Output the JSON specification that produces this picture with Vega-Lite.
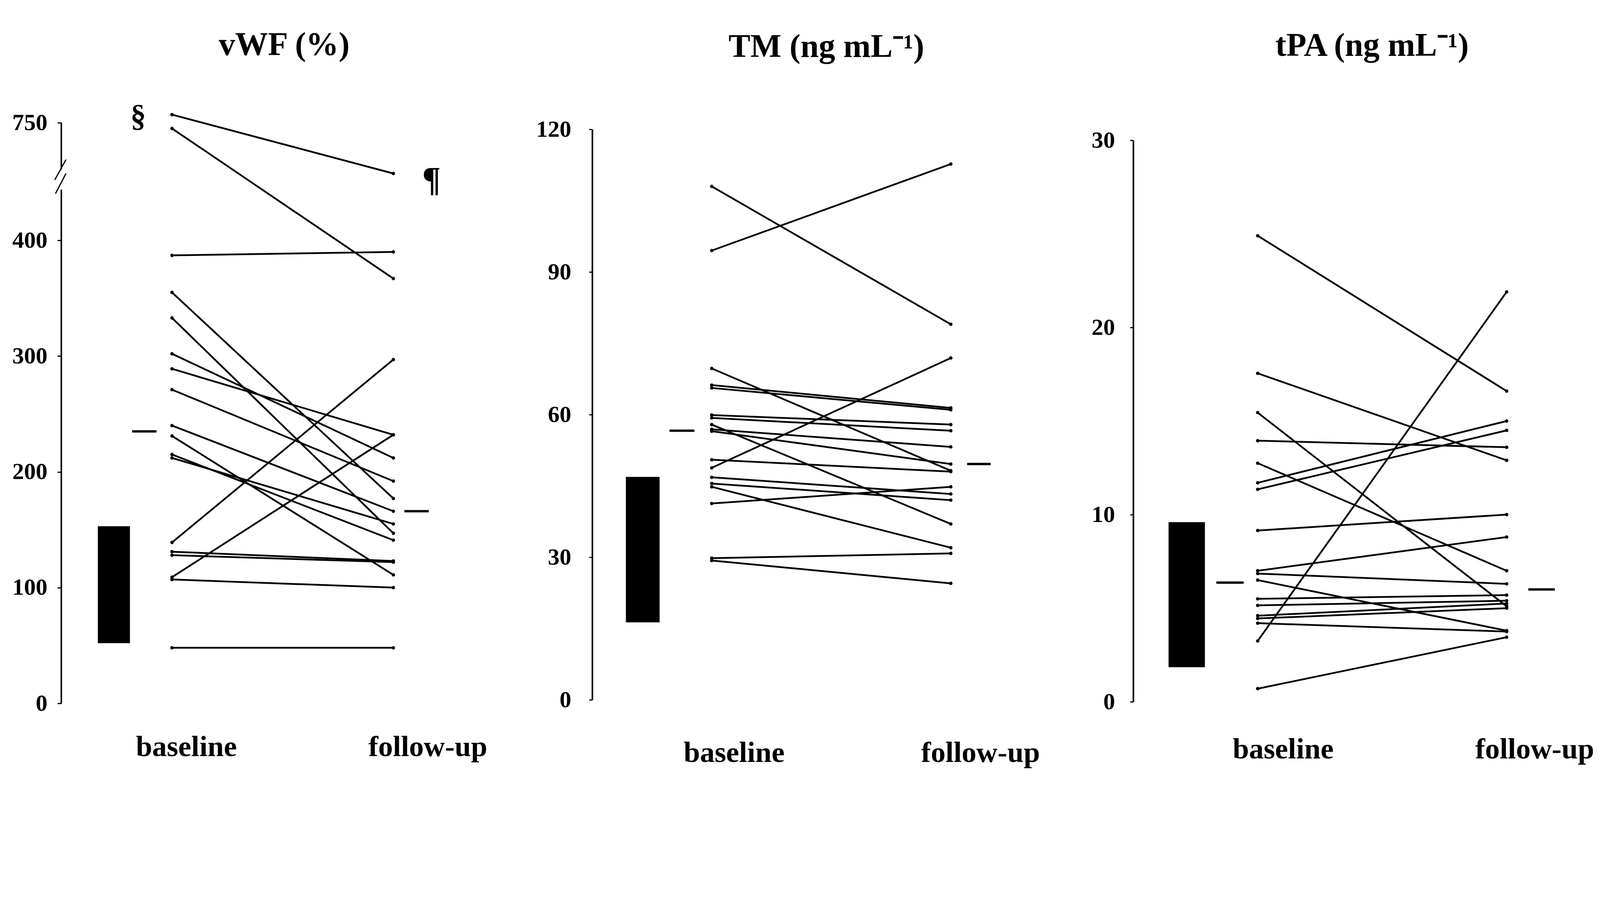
{
  "$schema": "https://vega.github.io/schema/vega-lite/v6.json",
  "padding": {"left": 31, "top": 74, "right": 7, "bottom": 4},
  "background": "white",
  "bounds": "flush",
  "spacing": 218,
  "datasets": {
    "vwf": [
      {"subject": 1, "baseline": 757, "followup": 706},
      {"subject": 2, "baseline": 745, "followup": 367},
      {"subject": 3, "baseline": 387, "followup": 390},
      {"subject": 4, "baseline": 355, "followup": 177},
      {"subject": 5, "baseline": 333, "followup": 147},
      {"subject": 6, "baseline": 302, "followup": 212},
      {"subject": 7, "baseline": 289, "followup": 232},
      {"subject": 8, "baseline": 271, "followup": 192},
      {"subject": 9, "baseline": 240, "followup": 166},
      {"subject": 10, "baseline": 231, "followup": 111},
      {"subject": 11, "baseline": 215, "followup": 141},
      {"subject": 12, "baseline": 212, "followup": 155},
      {"subject": 13, "baseline": 139, "followup": 297},
      {"subject": 14, "baseline": 131, "followup": 123},
      {"subject": 15, "baseline": 128, "followup": 122},
      {"subject": 16, "baseline": 109, "followup": 232},
      {"subject": 17, "baseline": 107, "followup": 100},
      {"subject": 18, "baseline": 48, "followup": 48}
    ],
    "tm": [
      {"subject": 1, "baseline": 108, "followup": 79},
      {"subject": 2, "baseline": 94.5, "followup": 112.7},
      {"subject": 3, "baseline": 69.7, "followup": 48.2},
      {"subject": 4, "baseline": 66.2, "followup": 61.4},
      {"subject": 5, "baseline": 65.6, "followup": 61.0},
      {"subject": 6, "baseline": 59.9, "followup": 57.9},
      {"subject": 7, "baseline": 59.3, "followup": 56.6},
      {"subject": 8, "baseline": 57.9, "followup": 37.0},
      {"subject": 9, "baseline": 56.9, "followup": 53.2},
      {"subject": 10, "baseline": 56.5, "followup": 49.6},
      {"subject": 11, "baseline": 50.5, "followup": 48.0},
      {"subject": 12, "baseline": 48.8, "followup": 71.9},
      {"subject": 13, "baseline": 46.8, "followup": 43.3},
      {"subject": 14, "baseline": 45.5, "followup": 42.0},
      {"subject": 15, "baseline": 44.8, "followup": 32.0},
      {"subject": 16, "baseline": 41.3, "followup": 44.8},
      {"subject": 17, "baseline": 29.8, "followup": 30.8},
      {"subject": 18, "baseline": 29.3, "followup": 24.5}
    ],
    "tpa": [
      {"subject": 1, "baseline": 24.9, "followup": 16.6},
      {"subject": 2, "baseline": 17.55, "followup": 12.9},
      {"subject": 3, "baseline": 15.45, "followup": 5.1},
      {"subject": 4, "baseline": 13.95, "followup": 13.6},
      {"subject": 5, "baseline": 12.75, "followup": 7.0},
      {"subject": 6, "baseline": 11.7, "followup": 15.0},
      {"subject": 7, "baseline": 11.35, "followup": 14.5},
      {"subject": 8, "baseline": 9.15, "followup": 10.0},
      {"subject": 9, "baseline": 7.0, "followup": 8.8},
      {"subject": 10, "baseline": 6.85, "followup": 6.3},
      {"subject": 11, "baseline": 6.5, "followup": 3.8},
      {"subject": 12, "baseline": 5.5, "followup": 5.7},
      {"subject": 13, "baseline": 5.15, "followup": 5.4},
      {"subject": 14, "baseline": 4.6, "followup": 5.25},
      {"subject": 15, "baseline": 4.45, "followup": 5.0},
      {"subject": 16, "baseline": 4.2, "followup": 3.75},
      {"subject": 17, "baseline": 3.25, "followup": 21.9},
      {"subject": 18, "baseline": 0.7, "followup": 3.45}
    ],
    "summary": [
      {"marker": "vWF", "range_low": 52, "range_high": 153, "mean_baseline": 235, "mean_followup": 166},
      {"marker": "TM", "range_low": 16.3, "range_high": 46.9, "mean_baseline": 56.6, "mean_followup": 49.6},
      {"marker": "tPA", "range_low": 1.85, "range_high": 9.6, "mean_baseline": 6.37, "mean_followup": 6.0}
    ]
  },
  "hconcat": [
    {
      "width": 1141, "height": 1487,
      "title": {"text": "vWF (%)", "offset": 100},
      "layer": [
        {
          "data": {"name": "vwf"},
          "mark": {"type": "rule", "strokeWidth": 4.5},
          "encoding": {
            "x": {"datum": 1, "type": "quantitative", "scale": {"domain": [0, 4], "range": [0, 1133.3]},
                  "axis": {"orient": "bottom", "values": [1.128, 3.31], "labelExpr": "datum.value < 2 ? 'baseline' : 'follow-up'", "domain": false, "ticks": false, "labelPadding": 74, "labelFontSize": 75, "labelLimit": 1000, "labelFlush": false, "labelOverlap": false, "title": null}},
            "x2": {"datum": 3},
            "y": {"field": "baseline", "type": "quantitative", "scale": {"domain": [0, 450, 706, 750], "range": [1486, 153, 130, 0], "nice": false, "zero": false},
                  "axis": {"values": [0, 100, 200, 300, 400, 750], "domain": false, "tickSize": 10, "tickWidth": 3, "labelPadding": 26, "labelFontSize": 60, "title": null}},
            "y2": {"field": "followup"}
          }
        },
        {
          "data": {"name": "vwf"},
          "mark": {"type": "circle", "size": 77, "opacity": 1, "color": "black"},
          "encoding": {
            "x": {"datum": 1, "type": "quantitative", "title": null},
            "y": {"field": "baseline", "type": "quantitative", "title": null}
          }
        },
        {
          "data": {"name": "vwf"},
          "mark": {"type": "circle", "size": 77, "opacity": 1, "color": "black"},
          "encoding": {
            "x": {"datum": 3, "type": "quantitative", "title": null},
            "y": {"field": "followup", "type": "quantitative", "title": null}
          }
        },
        {
          "data": {"name": "summary"},
          "transform": [{"filter": "datum.marker === 'vWF'"}],
          "mark": {"type": "rect", "color": "black"},
          "encoding": {
            "x": {"datum": 0.33, "type": "quantitative", "title": null},
            "x2": {"datum": 0.62},
            "y": {"field": "range_low", "type": "quantitative", "title": null},
            "y2": {"field": "range_high"}
          }
        },
        {
          "data": {"name": "summary"},
          "transform": [{"filter": "datum.marker === 'vWF'"}],
          "mark": {"type": "rule", "strokeWidth": 6},
          "encoding": {
            "x": {"datum": 0.64, "type": "quantitative", "title": null},
            "x2": {"datum": 0.86},
            "y": {"field": "mean_baseline", "type": "quantitative", "title": null}
          }
        },
        {
          "data": {"name": "summary"},
          "transform": [{"filter": "datum.marker === 'vWF'"}],
          "mark": {"type": "rule", "strokeWidth": 6},
          "encoding": {
            "x": {"datum": 3.10, "type": "quantitative", "title": null},
            "x2": {"datum": 3.32},
            "y": {"field": "mean_followup", "type": "quantitative", "title": null}
          }
        },
        {
          "data": {"values": [{}]},
          "mark": {"type": "rule", "strokeWidth": 4},
          "encoding": {
            "x": {"datum": 0, "type": "quantitative", "title": null},
            "y": {"datum": 0, "type": "quantitative", "title": null},
            "y2": {"datum": 443.8}
          }
        },
        {
          "data": {"values": [{}]},
          "mark": {"type": "rule", "strokeWidth": 4},
          "encoding": {
            "x": {"datum": 0, "type": "quantitative", "title": null},
            "y": {"datum": 709.5, "type": "quantitative", "title": null},
            "y2": {"datum": 750}
          }
        },
        {
          "data": {"values": [{}]},
          "mark": {"type": "rule", "strokeWidth": 3},
          "encoding": {
            "x": {"datum": -0.059, "type": "quantitative", "title": null},
            "x2": {"datum": 0.042},
            "y": {"datum": 526, "type": "quantitative", "title": null},
            "y2": {"datum": 718}
          }
        },
        {
          "data": {"values": [{}]},
          "mark": {"type": "rule", "strokeWidth": 3},
          "encoding": {
            "x": {"datum": -0.053, "type": "quantitative", "title": null},
            "x2": {"datum": 0.042},
            "y": {"datum": 440.4, "type": "quantitative", "title": null},
            "y2": {"datum": 706}
          }
        },
        {
          "data": {"values": [{}]},
          "mark": {"type": "text", "text": "§", "font": "Liberation Serif", "fontWeight": "bold", "fontSize": 80, "baseline": "middle", "align": "center"},
          "encoding": {
            "x": {"datum": 0.694, "type": "quantitative", "title": null},
            "y": {"datum": 755, "type": "quantitative", "title": null}
          }
        },
        {
          "data": {"values": [{}]},
          "mark": {"type": "text", "text": "¶", "font": "Liberation Serif", "fontWeight": "bold", "fontSize": 88, "baseline": "middle", "align": "center"},
          "encoding": {
            "x": {"datum": 3.344, "type": "quantitative", "title": null},
            "y": {"datum": 507, "type": "quantitative", "title": null}
          }
        }
      ]
    },
    {
      "width": 1167, "height": 1487,
      "title": {"text": "TM (ng mL⁻¹)", "offset": 137, "dx": 16},
      "layer": [
        {
          "data": {"name": "tm"},
          "mark": {"type": "rule", "strokeWidth": 4.5},
          "encoding": {
            "x": {"datum": 1, "type": "quantitative", "scale": {"domain": [0, 4], "range": [0, 1224]},
                  "axis": {"orient": "bottom", "values": [1.186, 3.247], "labelExpr": "datum.value < 2 ? 'baseline' : 'follow-up'", "domain": false, "ticks": false, "labelPadding": 89, "labelFontSize": 75, "labelLimit": 1000, "labelFlush": false, "labelOverlap": false, "title": null}},
            "x2": {"datum": 3},
            "y": {"field": "baseline", "type": "quantitative", "scale": {"domain": [0, 120], "range": [1477, 17], "nice": false, "zero": false},
                  "axis": {"values": [0, 30, 60, 90, 120], "domain": true, "domainWidth": 4, "tickSize": 8, "tickWidth": 3, "labelPadding": 46, "labelFontSize": 60, "title": null}},
            "y2": {"field": "followup"}
          }
        },
        {
          "data": {"name": "tm"},
          "mark": {"type": "circle", "size": 77, "opacity": 1, "color": "black"},
          "encoding": {
            "x": {"datum": 1, "type": "quantitative", "title": null},
            "y": {"field": "baseline", "type": "quantitative", "title": null}
          }
        },
        {
          "data": {"name": "tm"},
          "mark": {"type": "circle", "size": 77, "opacity": 1, "color": "black"},
          "encoding": {
            "x": {"datum": 3, "type": "quantitative", "title": null},
            "y": {"field": "followup", "type": "quantitative", "title": null}
          }
        },
        {
          "data": {"name": "summary"},
          "transform": [{"filter": "datum.marker === 'TM'"}],
          "mark": {"type": "rect", "color": "black"},
          "encoding": {
            "x": {"datum": 0.282, "type": "quantitative", "title": null},
            "x2": {"datum": 0.564},
            "y": {"field": "range_low", "type": "quantitative", "title": null},
            "y2": {"field": "range_high"}
          }
        },
        {
          "data": {"name": "summary"},
          "transform": [{"filter": "datum.marker === 'TM'"}],
          "mark": {"type": "rule", "strokeWidth": 6},
          "encoding": {
            "x": {"datum": 0.647, "type": "quantitative", "title": null},
            "x2": {"datum": 0.855},
            "y": {"field": "mean_baseline", "type": "quantitative", "title": null}
          }
        },
        {
          "data": {"name": "summary"},
          "transform": [{"filter": "datum.marker === 'TM'"}],
          "mark": {"type": "rule", "strokeWidth": 6},
          "encoding": {
            "x": {"datum": 3.137, "type": "quantitative", "title": null},
            "x2": {"datum": 3.334},
            "y": {"field": "mean_followup", "type": "quantitative", "title": null}
          }
        }
      ]
    },
    {
      "width": 1173, "height": 1487,
      "title": {"text": "tPA (ng mL⁻¹)", "offset": 153, "dx": 25},
      "layer": [
        {
          "data": {"name": "tpa"},
          "mark": {"type": "rule", "strokeWidth": 4.5},
          "encoding": {
            "x": {"datum": 1, "type": "quantitative", "scale": {"domain": [0, 4], "range": [0, 1274.7]},
                  "axis": {"orient": "bottom", "values": [1.203, 3.224], "labelExpr": "datum.value < 2 ? 'baseline' : 'follow-up'", "domain": false, "ticks": false, "labelPadding": 80, "labelFontSize": 75, "labelLimit": 1000, "labelFlush": false, "labelOverlap": false, "title": null}},
            "x2": {"datum": 3},
            "y": {"field": "baseline", "type": "quantitative", "scale": {"domain": [0, 30], "range": [1482, 45], "nice": false, "zero": false},
                  "axis": {"values": [0, 10, 20, 30], "format": "d", "domain": true, "domainWidth": 4, "tickSize": 8, "tickWidth": 3, "labelPadding": 39, "labelFontSize": 60, "title": null}},
            "y2": {"field": "followup"}
          }
        },
        {
          "data": {"name": "tpa"},
          "mark": {"type": "circle", "size": 77, "opacity": 1, "color": "black"},
          "encoding": {
            "x": {"datum": 1, "type": "quantitative", "title": null},
            "y": {"field": "baseline", "type": "quantitative", "title": null}
          }
        },
        {
          "data": {"name": "tpa"},
          "mark": {"type": "circle", "size": 77, "opacity": 1, "color": "black"},
          "encoding": {
            "x": {"datum": 3, "type": "quantitative", "title": null},
            "y": {"field": "followup", "type": "quantitative", "title": null}
          }
        },
        {
          "data": {"name": "summary"},
          "transform": [{"filter": "datum.marker === 'tPA'"}],
          "mark": {"type": "rect", "color": "black"},
          "encoding": {
            "x": {"datum": 0.284, "type": "quantitative", "title": null},
            "x2": {"datum": 0.576},
            "y": {"field": "range_low", "type": "quantitative", "title": null},
            "y2": {"field": "range_high"}
          }
        },
        {
          "data": {"name": "summary"},
          "transform": [{"filter": "datum.marker === 'tPA'"}],
          "mark": {"type": "rule", "strokeWidth": 6},
          "encoding": {
            "x": {"datum": 0.668, "type": "quantitative", "title": null},
            "x2": {"datum": 0.887},
            "y": {"field": "mean_baseline", "type": "quantitative", "title": null}
          }
        },
        {
          "data": {"name": "summary"},
          "transform": [{"filter": "datum.marker === 'tPA'"}],
          "mark": {"type": "rule", "strokeWidth": 6},
          "encoding": {
            "x": {"datum": 3.174, "type": "quantitative", "title": null},
            "x2": {"datum": 3.387},
            "y": {"field": "mean_followup", "type": "quantitative", "title": null}
          }
        }
      ]
    }
  ],
  "config": {
    "view": {"stroke": null},
    "axis": {"labelFont": "Liberation Serif", "labelFontWeight": "bold", "labelColor": "black", "domainColor": "black", "tickColor": "black", "grid": false},
    "title": {"font": "Liberation Serif", "fontWeight": "bold", "fontSize": 84, "color": "black", "baseline": "alphabetic", "frame": "group"},
    "rule": {"color": "black"}
  }
}
